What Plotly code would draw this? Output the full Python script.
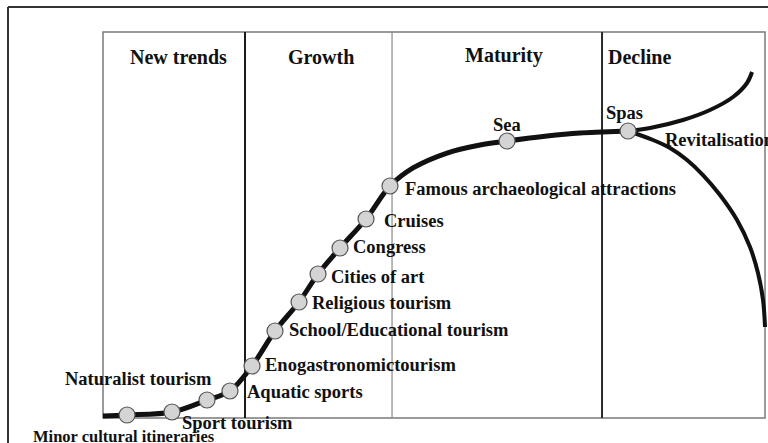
import plotly.graph_objects as go

# ---- data (time axis 0..100 across the panel, level 0..100 bottom->top) ----
stage_names = ["New trends", "Growth", "Maturity", "Decline"]
stage_bounds = [0, 21.45, 43.66, 75.38, 100]

product_labels = [
    "Minor cultural itineraries", "Sport tourism", "Naturalist tourism",
    "Aquatic sports", "Enogastronomictourism", "School/Educational tourism",
    "Religious tourism", "Cities of art", "Congress", "Cruises",
    "Famous archaeological attractions", "Sea", "Spas",
]
product_t = [3.63, 10.42, 15.71, 19.18, 22.51, 25.98, 29.61, 32.48, 35.80,
             39.73, 43.35, 61.03, 79.31]
product_v = [0.78, 1.55, 4.66, 6.99, 13.47, 22.54, 30.05, 37.31, 44.04,
             51.55, 60.10, 71.76, 74.35]

# life-cycle trend line (between and through the products)
trend_t = [0.0, 3.63, 10.42, 15.71, 19.18, 22.51, 25.98, 29.61, 32.48, 35.80,
           39.73, 43.35, 46.83, 51.96, 56.95, 61.03, 67.07, 72.05, 75.38, 79.31]
trend_v = [0.52, 0.78, 1.55, 4.66, 6.99, 13.47, 22.54, 30.05, 37.31, 44.04,
           51.55, 60.10, 64.77, 68.65, 70.73, 71.76, 73.06, 73.83, 74.09, 74.35]

revital_t = [79.31, 82.63, 87.61, 91.69, 95.17, 97.28, 98.04]
revital_v = [74.35, 75.13, 77.20, 79.79, 83.16, 86.79, 89.64]

decline_t = [79.31, 83.08, 85.65, 88.22, 90.63, 93.20, 95.77, 97.73, 98.94, 99.70, 100.0]
decline_v = [74.35, 72.02, 69.95, 66.84, 62.95, 57.77, 51.30, 44.30, 37.56, 30.57, 23.58]

branch_label = "Revitalisation"

# ---- label placement (pixel offsets from each product point) ----
label_dx = [-96, 8, -144, 15, 11, 12, 11, 11, 11, 16, 13, 0, -4]
label_dy = [22, 11, -21, 1, -1, -1, 1, 3, -1, 2, 3, -16, -18]
label_anchor = ["left"] * 11 + ["center", "center"]
label_size = [16.5] + [18.5] * 12

FONT = "Liberation Serif, Times New Roman, serif"
INK = "#111111"

fig = go.Figure()

fig.add_trace(go.Scatter(x=trend_t, y=trend_v, mode="lines",
                         line=dict(color=INK, width=5, shape="spline", smoothing=1.0),
                         hoverinfo="skip", showlegend=False))
fig.add_trace(go.Scatter(x=revital_t, y=revital_v, mode="lines",
                         line=dict(color=INK, width=4, shape="spline", smoothing=1.0),
                         hoverinfo="skip", showlegend=False))
fig.add_trace(go.Scatter(x=decline_t, y=decline_v, mode="lines",
                         line=dict(color=INK, width=4, shape="spline", smoothing=1.0),
                         hoverinfo="skip", showlegend=False))
fig.add_trace(go.Scatter(x=product_t, y=product_v, mode="markers",
                         marker=dict(size=16, color="#d4d4d4",
                                     line=dict(color="#555555", width=1.2)),
                         text=product_labels, hoverinfo="text", showlegend=False))

# panel frame and stage dividers
fig.add_shape(type="rect", xref="x", yref="y", x0=stage_bounds[0], x1=stage_bounds[-1],
              y0=0, y1=100, line=dict(color="#7a7a7a", width=1.5), layer="below")
div_styles = [dict(color="#1a1a1a", width=2), dict(color="#8a8a8a", width=1.2),
              dict(color="#2a2a2a", width=2)]
for xb, st in zip(stage_bounds[1:-1], div_styles):
    fig.add_shape(type="line", xref="x", yref="y", x0=xb, x1=xb, y0=0, y1=100,
                  line=st, layer="below")

# outer frame (left and top edges)
fig.add_shape(type="line", xref="paper", yref="paper", x0=8/768, x1=8/768,
              y0=-0.05, y1=1 - 7/443, line=dict(color="#333333", width=2))
fig.add_shape(type="line", xref="paper", yref="paper", x0=8/768, x1=1.05,
              y0=1 - 7/443, y1=1 - 7/443, line=dict(color="#333333", width=2))

# stage titles
title_pos = [(11.33, 93.5, "center"), (32.93, 93.5, "center"),
             (60.57, 94.0, "center"), (75.98, 93.5, "left")]
for name, (tx, ty, anc) in zip(stage_names, title_pos):
    fig.add_annotation(x=tx, y=ty, xref="x", yref="y", text="<b>" + name + "</b>",
                       showarrow=False, xanchor=anc, yanchor="middle",
                       font=dict(family=FONT, size=20, color=INK))

# product labels
for lab, t, v, dx, dy, anc, fs in zip(product_labels, product_t, product_v,
                                      label_dx, label_dy, label_anchor, label_size):
    fig.add_annotation(x=t, y=v, xref="x", yref="y", text="<b>" + lab + "</b>",
                       showarrow=False, xanchor=anc, yanchor="middle",
                       xshift=dx, yshift=-dy,
                       font=dict(family=FONT, size=fs, color=INK))

fig.add_annotation(x=product_t[-1], y=product_v[-1], xref="x", yref="y",
                   text="<b>" + branch_label + "</b>", showarrow=False,
                   xanchor="left", yanchor="middle", xshift=35, yshift=-9,
                   font=dict(family=FONT, size=18.5, color=INK))

fig.update_layout(
    width=768, height=443,
    margin=dict(l=0, r=0, t=0, b=0),
    paper_bgcolor="white", plot_bgcolor="white",
    xaxis=dict(range=[-15.56, 100.45], visible=False, fixedrange=True),
    yaxis=dict(range=[-6.48, 108.29], visible=False, fixedrange=True),
)

fig.write_html("out.html", config={"displayModeBar": False},
               post_script="document.body.style.margin='0';document.body.style.overflow='hidden';")
